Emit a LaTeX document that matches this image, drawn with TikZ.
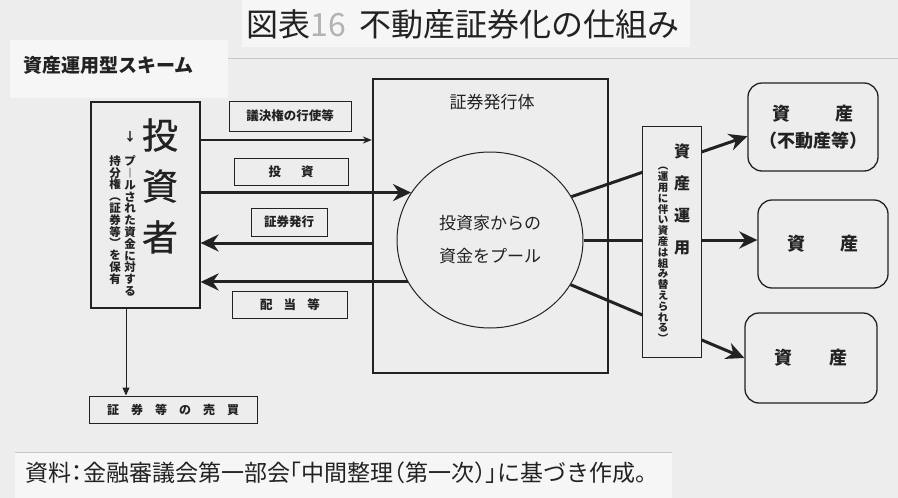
\documentclass[tikz,border=0pt]{standalone}
\usepackage{fontspec}
\newfontfamily\jp{Noto Sans CJK JP}
\newfontfamily\jpmed{Noto Sans CJK JP}[FakeBold=0.7]
\newfontfamily\jphalt{Noto Sans CJK JP}[RawFeature=+halt]
\usetikzlibrary{arrows.meta,shapes.geometric}
\definecolor{paper}{HTML}{EDEDED}
\definecolor{patch}{HTML}{F6F6F6}
\definecolor{ink}{HTML}{222222}

\tikzset{
  box/.style={draw=ink, line width=1.2pt, inner sep=0pt},
  lbl/.style={draw=ink, line width=1pt, inner sep=0pt, minimum height=28pt, font=\jp\bfseries\fontsize{12.5}{13}\selectfont},
  asset/.style={draw=ink, line width=1.3pt, rounded corners=14pt, minimum width=130pt, minimum height=88pt, inner sep=0pt, align=center, font=\jp\bfseries\fontsize{18}{27}\selectfont},
  fat/.style={draw=ink, line width=3pt, -{Stealth[length=18pt,width=17pt]}},
  slim/.style={draw=ink, line width=1.5pt, -{Stealth[length=9pt,width=7pt]}},
  tate/.style={align=center, inner sep=0pt}
}

\begin{document}
\begin{tikzpicture}[x=1pt,y=-1pt,text=ink]
\fill[paper] (0,0) rectangle (898,498);
\useasboundingbox (0,0) rectangle (898,498);
\fill[patch] (242,0) rectangle (690,47);
\fill[patch] (10,40) rectangle (228,98);
\fill[patch] (15,452) rectangle (672,498);
\draw[gray!45,line width=0.8pt] (228,58) -- (898,58);
\draw[gray!45,line width=0.8pt] (15,452) -- (672,452);

\node[font=\jp\fontsize{32}{34}\selectfont] (title) at (463,24) {図表{\color{gray!60}16}\hspace{14pt}不動産証券化の仕組み};
\node[anchor=west, font=\jp\bfseries\fontsize{19}{20}\selectfont] (scheme) at (20,65) {資産運用型スキーム};

% investor
\node[box, minimum width=109pt, minimum height=206pt] (inv) at (145.5,205) {};
\node[tate, font=\jpmed\fontsize{36}{51}\selectfont] (invname) at (160,186) {投\\資\\者};
\node[font=\jp\bfseries\fontsize{12}{12}\selectfont] (down) at (130,137) {↓};
\node[tate, font=\jp\bfseries\fontsize{11.5}{11.8}\selectfont] (pooled) at (130,226) {プ\\︱\\ル\\さ\\れ\\た\\資\\金\\に\\対\\す\\る};
\node[tate, font=\jp\bfseries\fontsize{11.5}{11.8}\selectfont] (share) at (115,220) {持\\分\\権\\︵\\証\\券\\等\\︶\\を\\保\\有};

% issuer
\node[box, line width=2.2pt, minimum width=235pt, minimum height=294pt] (iss) at (490.5,226) {};
\node[font=\jp\fontsize{17}{18}\selectfont] (isslbl) at (492,102) {証券発行体};
\node[draw=ink, line width=1pt, ellipse, minimum width=186pt, minimum height=176pt, inner sep=0pt, align=center, font=\jp\fontsize{17}{33}\selectfont] (pool) at (490,240) {投資家からの\\資金をプール};

\node[lbl, minimum width=122pt, minimum height=30pt] (vote) at (290,116) {議決権の行使等};
\node[lbl, minimum width=114pt, minimum height=27pt] (invest) at (291,172) {投\hspace{1.6em}資};
\node[lbl, minimum width=76pt] (issue) at (289,222) {証券発行};
\node[lbl, minimum width=115pt, minimum height=27pt] (div) at (290,305) {配\hspace{0.9em}当\hspace{0.9em}等};

\draw[slim] (inv.east |- 0,140) -- (iss.west |- 0,140);
\draw[fat] (inv.east |- pool.149) -- (pool.149);
\draw[fat] (iss.west |- 0,243) -- (inv.east |- 0,243);
\draw[fat] (pool.207) -- (inv.east |- pool.207);

% assets
\node[asset] (a1) at (813,127) {資\hspace{2.5em}産\\（不動産等）};
\node[asset] (a2) at (823,244) {資\hspace{1.9em}産};
\node[asset, minimum width=132pt, minimum height=90pt] (a3) at (811,358) {資\hspace{2.05em}産};

\draw[fat] (pool.28) -- (a1.188);
\draw[fat] (pool.east) -- (a2.west |- pool.east);
\draw[fat] (pool.331) -- (a3.west);

\node[draw=ink, line width=1pt, fill=paper, minimum width=59pt, minimum height=231pt, inner sep=0pt] (ops) at (671.5,241.5) {};
\node[tate, font=\jp\bfseries\fontsize{16}{32}\selectfont] (opsname) at (682,199) {資\\産\\運\\用};
\node[tate, font=\jp\bfseries\fontsize{10.5}{10.8}\selectfont] (opsnote) at (663,255) {︵\\運\\用\\に\\伴\\い\\資\\産\\は\\組\\み\\替\\え\\ら\\れ\\る\\︶};

% trading
\node[lbl, minimum width=168pt, minimum height=27pt, font=\jp\bfseries\fontsize{12}{12}\selectfont] (trade) at (173,409.5) {証\hspace{1em}券\hspace{1em}等\hspace{1em}の\hspace{1em}売\hspace{1em}買};
\draw[draw=ink, line width=1pt, -{Triangle[length=8pt,width=7pt]}] (inv.south -| 126,0) -- (trade.north -| 126,0);

\node[anchor=west, font=\jphalt\fontsize{23}{24}\selectfont] (note) at (22,473) {資料：金融審議会第一部会「中間整理（第一次）」に基づき作成。};
\end{tikzpicture}
\end{document}
